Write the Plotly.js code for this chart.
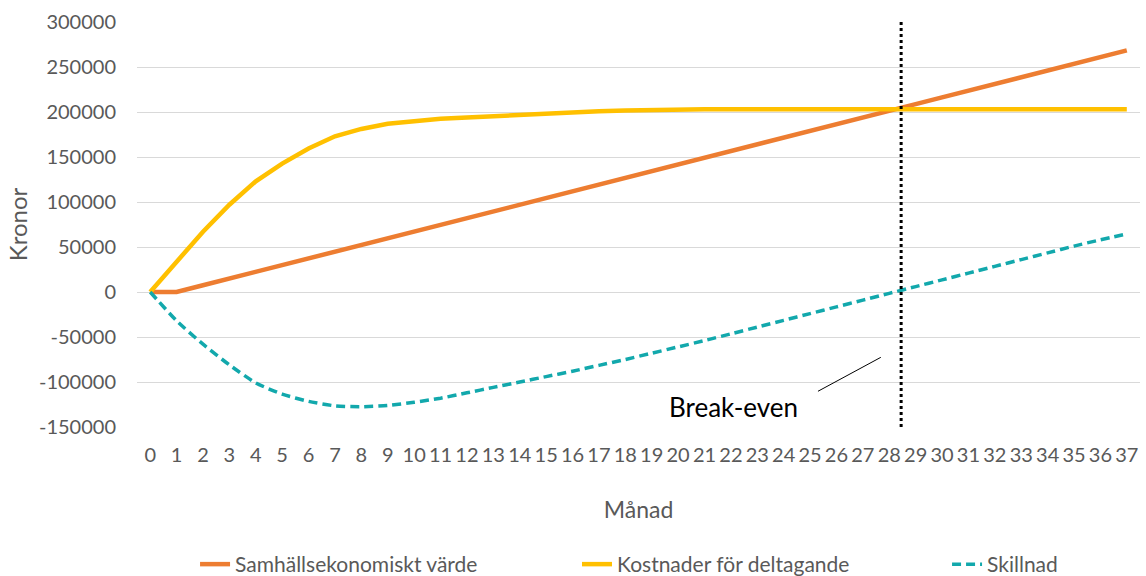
<!DOCTYPE html>
<html>
<head>
<meta charset="utf-8">
<script src="https://cdn.plot.ly/plotly-3.0.1.min.js"></script>
<style>html,body{margin:0;padding:0;background:#fff;}#chart{width:1146px;height:576px;}</style>
</head>
<body>
<div id="chart"></div>
<script>
const months = [0,1,2,3,4,5,6,7,8,9,10,11,12,13,14,15,16,17,18,19,20,21,22,23,24,25,26,27,28,29,30,31,32,33,34,35,36,37];
const monthLabels = months.map(String);
const samhallsvarde = [0,0,7500,15000,22400,29900,37300,44800,52200,59700,67100,74600,82000,89500,97000,104400,111900,119300,126800,134200,141700,149100,156600,164000,171500,179000,186400,193900,201300,208800,216200,223700,231100,238600,246000,253500,261000,268500];
const kostnader = [0,34000,67000,97000,123000,142600,159500,173000,181200,187000,190000,192500,194000,195500,197000,198500,199800,200800,201600,202300,202800,203000,203000,203000,203000,203000,203000,203000,203000,203000,203000,203000,203000,203000,203000,203000,203000,203000];
const skillnad = [0,-32000,-58000,-81000,-101000,-113500,-121500,-126500,-127500,-126000,-122500,-118000,-112000,-106000,-100000,-94000,-88000,-81500,-75000,-68000,-61000,-54000,-46500,-39000,-31500,-24000,-16500,-9000,-1500,6000,13500,21000,28500,36000,43500,51000,58000,64500];
const breakEvenMonth = 28.45;
const yTicks = [-150000,-100000,-50000,0,50000,100000,150000,200000,250000,300000];

const font = "Lato, 'Open Sans', sans-serif";
const traces = [
  {x: months, y: samhallsvarde, type: 'scatter', mode: 'lines', name: 'Samhällsekonomiskt värde',
   line: {color: '#ED7D31', width: 4.5}, legend: 'legend'},
  {x: months, y: kostnader, type: 'scatter', mode: 'lines', name: 'Kostnader för deltagande',
   line: {color: '#FFC000', width: 4.5}, legend: 'legend2'},
  {x: months, y: skillnad, type: 'scatter', mode: 'lines', name: 'Skillnad',
   line: {color: '#12A8AC', width: 3.5, dash: '9px,5px', shape: 'spline', smoothing: 0.6}, legend: 'legend3'}
];
function leg(x) {
  return {orientation: 'h', x: x, xanchor: 'left', xref: 'container', yref: 'container', y: 0.02, yanchor: 'middle',
          font: {size: 21, color: '#595959'}, bgcolor: 'rgba(0,0,0,0)'};
}
const layout = {
  width: 1146, height: 576,
  margin: {l: 137, r: 6, t: 22, b: 149, autoexpand: false},
  paper_bgcolor: '#fff', plot_bgcolor: '#fff',
  font: {family: font, color: '#595959', size: 20},
  showlegend: true,
  legend: leg(0.1702), legend2: leg(0.5035), legend3: leg(0.8264),
  xaxis: {
    range: [-0.5, 37.5], tickmode: 'array', tickvals: months, ticktext: monthLabels,
    tickangle: 0, showgrid: false, zeroline: false, showline: false, ticks: '', automargin: false,
    tickfont: {size: 20, color: '#595959'}, ticklabelstandoff: 14,
    title: {text: 'Månad', font: {size: 23, color: '#595959'}, standoff: 36}
  },
  yaxis: {
    range: [-150000, 300000], tickmode: 'array', tickvals: yTicks, ticktext: yTicks.map(String),
    showgrid: true, gridcolor: '#D9D9D9', gridwidth: 1, zeroline: false, showline: false, ticks: '', automargin: false,
    tickfont: {size: 20, color: '#595959'}, ticklabelstandoff: 20,
    title: {text: 'Kronor', font: {size: 24, color: '#595959'}, standoff: 4}
  },
  shapes: [
    {type: 'line', xref: 'x', yref: 'paper', x0: breakEvenMonth, x1: breakEvenMonth, y0: 0, y1: 1,
     line: {color: '#000', width: 3, dash: 'dot'}},
    {type: 'line', xref: 'x', yref: 'y', x0: 25.3, y0: -110300, x1: 27.68, y1: -72600,
     line: {color: '#000', width: 1}}
  ],
  annotations: [
    {xref: 'x', yref: 'y', x: 22.1, y: -128000, text: 'Break-even', showarrow: false,
     font: {size: 26, color: '#000', family: font}}
  ]
};
Plotly.newPlot('chart', traces, layout, {displayModeBar: false, staticPlot: true});
</script>
</body>
</html>
